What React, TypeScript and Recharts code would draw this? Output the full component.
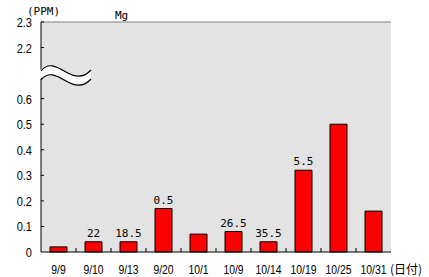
import React from 'react';
import {
  BarChart,
  Bar,
  XAxis,
  YAxis,
  CartesianGrid,
  ReferenceLine,
  LabelList,
} from 'recharts';

// sampling dates and Mg concentration (PPM)
const dates = ['9/9', '9/10', '9/13', '9/20', '10/1', '10/9', '10/14', '10/19', '10/25', '10/31'];
const mgValues = [0.02, 0.04, 0.04, 0.17, 0.07, 0.08, 0.04, 0.32, 0.5, 0.16];
const barNotes = ['', '22', '18.5', '0.5', '', '26.5', '35.5', '5.5', '', ''];

// broken axis: 0.8 and 0.9 on the scale carry the labels 2.2 and 2.3
const yTickValues = [0, 0.1, 0.2, 0.3, 0.4, 0.5, 0.6, 0.8, 0.9];
const yTickLabels = ['0', '0.1', '0.2', '0.3', '0.4', '0.5', '0.6', '2.2', '2.3'];

const data = dates.map((d, i) => ({ date: d, mg: mgValues[i], note: barNotes[i] }));

const W = 429;
const H = 277;
const BAND = 35;
const narrowFont = "'Liberation Sans', Arial, sans-serif";
const monoFont = "'DejaVu Sans Mono', monospace";

// the original uses a tall narrow bitmap font, so squeeze the text horizontally
const XTick = (props: any) => {
  const { x, y, payload, index } = props;
  return (
    <g>
      {index < dates.length - 1 && (
        <line x1={x + BAND / 2} x2={x + BAND / 2} y1={y} y2={y - 4} stroke="#000" />
      )}
      <text
        transform={`translate(${x},${y + 22}) scale(0.8,1)`}
        textAnchor="middle"
        fontFamily={narrowFont}
        fontSize={13}
        fill="#000"
      >
        {payload.value}
      </text>
    </g>
  );
};

const YTick = (props: any) => {
  const { x, y, payload } = props;
  const i = yTickValues.indexOf(payload.value);
  return (
    <g>
      {payload.value !== 0 && <line x1={x} x2={x + 3} y1={y} y2={y} stroke="#000" />}
      <text
        transform={`translate(${x - 9},${y + 5}) scale(0.85,1)`}
        textAnchor="end"
        fontFamily={narrowFont}
        fontSize={13}
        fill="#000"
      >
        {yTickLabels[i]}
      </text>
    </g>
  );
};

const NoteLabel = (props: any) => {
  const { x, y, width, value } = props;
  if (!value) return null;
  return (
    <text x={x + width / 2} y={y - 5} textAnchor="middle" fontFamily={monoFont} fontSize={11} fill="#000">
      {value}
    </text>
  );
};

const App: React.FC = () => {
  return (
    <div style={{ position: 'absolute', left: 0, top: 0, width: W, height: H, background: '#fff' }}>
      <BarChart width={W} height={H} data={data} margin={{ top: 22, right: 38, left: 0, bottom: 0 }}>
        <CartesianGrid fill="#e3e3e3" stroke="none" horizontal={false} vertical={false} />
        <XAxis
          dataKey="date"
          interval={0}
          height={25}
          tickSize={0}
          tickMargin={0}
          tickLine={false}
          axisLine={{ stroke: '#000' }}
          tick={<XTick />}
        />
        <YAxis
          domain={[0, 0.9]}
          ticks={yTickValues}
          width={41}
          tickSize={0}
          tickMargin={0}
          tickLine={false}
          axisLine={{ stroke: '#000' }}
          tick={<YTick />}
          interval={0}
        />
        <YAxis
          yAxisId="right"
          orientation="right"
          domain={[0, 0.9]}
          width={0}
          tick={false}
          tickLine={false}
          axisLine={{ stroke: '#808080' }}
        />
        <ReferenceLine y={0.9} stroke="#808080" />
        <Bar dataKey="mg" fill="#ff0000" stroke="#000" strokeWidth={1} barSize={17} isAnimationActive={false}>
          <LabelList dataKey="note" content={<NoteLabel />} />
        </Bar>
      </BarChart>
      <svg
        width={W}
        height={H}
        style={{ position: 'absolute', left: 0, top: 0, pointerEvents: 'none' }}
      >
        <text x={27} y={15} fontFamily={monoFont} fontSize={11} fill="#000">(PPM)</text>
        <text x={115} y={19} fontFamily={monoFont} fontSize={11} fill="#000">Mg</text>
        <text x={390} y={274} fontFamily="'Noto Sans CJK JP', sans-serif" fontSize={12} fill="#000">(日付)</text>
        {/* axis break */}
        <path
          d="M39,71 C48,62 56,66 66,72 C76,78 84,78 91,70 L91,79 C84,87 76,87 66,81 C56,75 48,71 39,80 Z"
          fill="#fff"
        />
        <path d="M41,71 C48,62 56,66 66,72 C76,78 84,78 91,70" fill="none" stroke="#000" strokeWidth={1.2} />
        <path d="M41,80 C48,71 56,75 66,81 C76,87 84,87 91,79" fill="none" stroke="#000" strokeWidth={1.2} />
      </svg>
    </div>
  );
};

export default App;
